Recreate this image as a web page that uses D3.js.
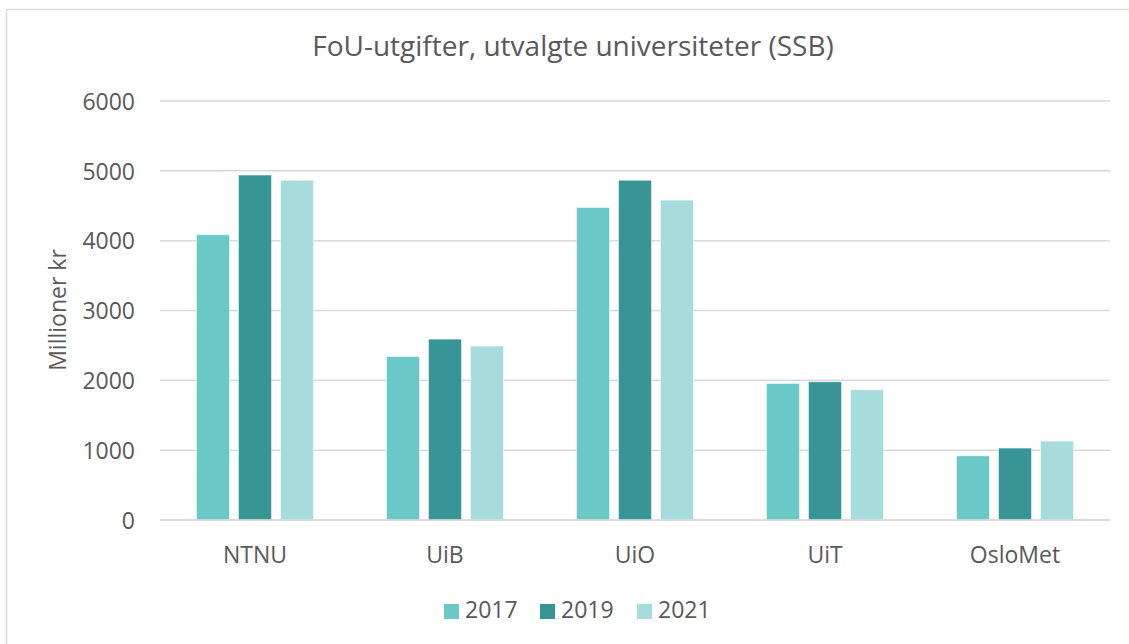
<!DOCTYPE html>
<html>
<head>
<meta charset="utf-8">
<script src="https://cdn.jsdelivr.net/npm/d3@7"></script>
<style>
  body { margin: 0; background: #fff; }
  text { font-family: "Open Sans", sans-serif; fill: #595959; }
</style>
</head>
<body>
<svg id="chart" width="1129" height="644"></svg>
<script>
// data (millioner kr)
const universities = ['NTNU', 'UiB', 'UiO', 'UiT', 'OsloMet'];
const years = ['2017', '2019', '2021'];
const v2017 = [4085, 2340, 4475, 1955, 920];
const v2019 = [4940, 2590, 4865, 1980, 1030];
const v2021 = [4865, 2490, 4580, 1865, 1130];
const yTicks = [0, 1000, 2000, 3000, 4000, 5000, 6000];
const colors = ['#6ac9c7', '#379596', '#a6dcdc'];

const series = [v2017, v2019, v2021];
const svg = d3.select('#chart');
const frame = {left: 160, right: 1110, top: 101, bottom: 520};

// outer border
svg.append('rect').attr('x', 6.5).attr('y', 9.5).attr('width', 1140).attr('height', 650)
  .attr('fill', 'none').attr('stroke', '#d9d9d9').attr('stroke-width', 1.5);

const x0 = d3.scaleBand().domain(universities).range([frame.left, frame.right]);
const x1 = d3.scaleBand().domain(years).range([0, x0.bandwidth()]).paddingInner(0.214).paddingOuter(0.869);
const y = d3.scaleLinear().domain([0, 6000]).range([frame.bottom, frame.top]);

// gridlines
svg.append('g').selectAll('line').data(yTicks).join('line')
  .attr('x1', frame.left).attr('x2', frame.right)
  .attr('y1', d => y(d)).attr('y2', d => y(d))
  .attr('stroke', '#d9d9d9').attr('stroke-width', 1.5);

// y axis labels
const yAxis = svg.append('g').attr('transform', 'translate(' + (frame.left - 25) + ',0)')
  .call(d3.axisLeft(y).tickValues(yTicks).tickSize(0).tickPadding(0).tickFormat(d3.format('d')));
yAxis.select('.domain').remove();
yAxis.selectAll('text').attr('font-size', 23).attr('font-family', '"Open Sans", sans-serif')
  .attr('fill', '#595959').attr('dy', '0.36em');

// bars
universities.forEach((u, i) => {
  const g = svg.append('g').attr('transform', 'translate(' + x0(u) + ',0)');
  g.selectAll('rect').data(years).join('rect')
    .attr('x', d => x1(d))
    .attr('width', x1.bandwidth())
    .attr('y', (d, j) => y(series[j][i]))
    .attr('height', (d, j) => y(0) - y(series[j][i]))
    .attr('fill', (d, j) => colors[j])
    .attr('stroke', '#ffffff').attr('stroke-opacity', 0.5).attr('stroke-width', 1);
});

// x axis labels
const xAxis = svg.append('g').attr('transform', 'translate(0,' + frame.bottom + ')')
  .call(d3.axisBottom(x0).tickSize(0));
xAxis.select('.domain').remove();
xAxis.selectAll('text').attr('font-size', 23).attr('font-family', '"Open Sans", sans-serif')
  .attr('fill', '#595959').attr('y', 43).attr('dy', 0);

// baseline on top
svg.append('line').attr('x1', frame.left).attr('x2', frame.right)
  .attr('y1', y(0)).attr('y2', y(0)).attr('stroke', '#d9d9d9').attr('stroke-width', 1.5);

// title
svg.append('text').attr('x', 573).attr('y', 56).attr('text-anchor', 'middle')
  .attr('font-size', 28).text('FoU-utgifter, utvalgte universiteter (SSB)');

// y axis title
svg.append('text').attr('transform', 'translate(66,310) rotate(-90)')
  .attr('text-anchor', 'middle').attr('font-size', 23).text('Millioner kr');

// legend
const legend = svg.append('g').attr('transform', 'translate(444,604)');
const legendX = [0, 96, 193];
years.forEach((yr, j) => {
  const it = legend.append('g').attr('transform', 'translate(' + legendX[j] + ',0)');
  it.append('rect').attr('width', 15).attr('height', 15).attr('fill', colors[j]);
  it.append('text').attr('x', 21).attr('y', 14).attr('font-size', 23).text(yr);
});
</script>
</body>
</html>
